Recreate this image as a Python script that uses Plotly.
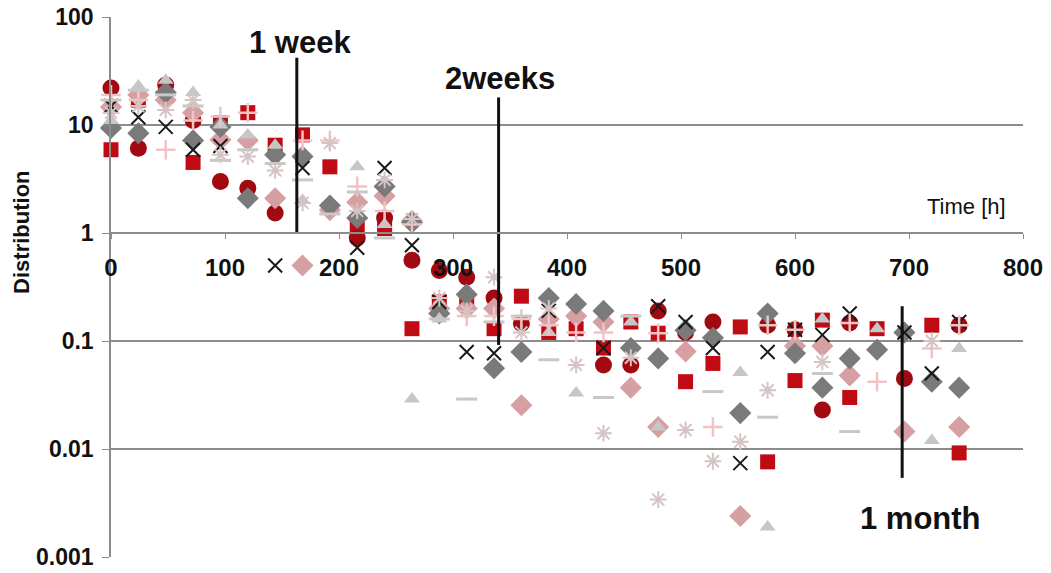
import plotly.graph_objects as go

# Sampling times (hours)
hours = [0, 24, 48, 72, 96, 120, 144, 168, 192, 216, 240, 264, 288, 312, 336, 360,
         384, 408, 432, 456, 480, 504, 528, 552, 576, 600, 624, 648, 672, 696, 720, 744]

# Distribution values per series (None = no measurement)
red_squares = [5.9, 17, 21, 4.5, 10.5, 13, 6.5, 8.1, 4.1, 1.14, 1.1, 0.13, 0.23, 0.22, 0.13, 0.26,
               0.12, 0.13, 0.086, 0.15, 0.118, 0.042, 0.062, 0.135, 0.0076, 0.043, 0.156, 0.030, 0.13, None, 0.14, 0.0092]
dark_circles = [22, 6.1, 23.5, 11, 3.0, 2.6, 1.53, None, None, 0.9, 1.38, 0.56, 0.45, 0.39, 0.25, 0.145,
                None, None, 0.06, 0.06, 0.19, 0.12, 0.15, None, 0.14, 0.127, 0.023, 0.147, None, 0.045, None, 0.14]
pink_diamonds = [14.7, 19, 17, 13, 7.3, 7.2, 2.1, 0.5, 1.63, 1.93, 2.2, 1.3, 0.2, 0.2, 0.2, 0.0254,
                 0.16, 0.17, 0.15, 0.037, 0.016, 0.08, None, 0.0024, None, 0.09, 0.09, 0.048, None, 0.0145, None, 0.016]
gray_diamonds = [9.4, 8.4, 20, 7.2, 9.6, 2.1, 5.3, 5.1, 1.8, 1.38, 2.7, 1.25, 0.18, 0.27, 0.056, 0.079,
                 0.25, 0.22, 0.19, 0.086, 0.069, 0.126, 0.107, 0.0215, 0.18, 0.077, 0.037, 0.069, 0.083, 0.12, 0.042, 0.037]
black_crosses = [15, 11.8, 9.6, 5.9, 6.4, None, 0.5, 4.0, None, 0.73, 4.0, 0.77, 0.23, 0.079, 0.077, None,
                 0.19, None, 0.086, None, 0.21, 0.15, 0.086, 0.0074, 0.079, 0.127, 0.114, 0.18, None, 0.12, 0.05, 0.15]
gray_triangles = [11, 23, 26, 20, 10, 8.1, 6.5, 2.0, None, 4.1, 1.2, 0.029, 0.16, None, None, None,
                  0.12, 0.033, None, 0.15, 0.016, None, None, 0.051, 0.0019, None, 0.16, None, 0.13, None, 0.012, 0.085]
pink_plus = [19, 17, 5.9, 11, 12, 13, None, 7.2, 7.2, 2.7, 1.6, 1.2, None, 0.17, 0.17, 0.16,
             0.14, 0.12, 0.12, None, 0.118, None, 0.016, None, 0.14, 0.127, None, 0.147, 0.042, None, 0.085, 0.14]
gray_dashes = [17, 21, 19, 15, 4.7, 5.9, 4.4, 3.1, 1.5, 2.4, 0.9, None, 0.16, 0.029, 0.15, 0.17,
               0.067, None, 0.030, 0.17, None, None, 0.034, None, 0.0197, None, 0.05, 0.0145, None, None, None, None]
pale_stars = [13, 15, 13.8, 17, 5.3, 5.1, 3.8, 1.9, 6.8, 1.6, 3.1, 1.35, 0.25, 0.19, 0.39, 0.12,
              0.2, 0.06, 0.014, 0.07, 0.0034, 0.015, 0.0077, 0.0117, 0.035, None, 0.064, None, None, None, 0.1, None]

# Milestones: label, hour, vertical extent of the marker line
milestone_labels = ["1 week", "2weeks", "1 month"]
milestone_hours = [163, 340, 694]
milestone_top = [42, 18, 0.21]
milestone_bottom = [1.0, 0.092, 0.0054]

y_tick_vals = [0.001, 0.01, 0.1, 1, 10, 100]
y_tick_text = ["0.001", "0.01", "0.1", "1", "10", "100"]
x_tick_vals = [0, 100, 200, 300, 400, 500, 600, 700, 800]

FONT = "Liberation Sans, Arial, sans-serif"
GRID = "#8c8c8c"

series = [
    (red_squares, "square", "#c00a14", 15, None),
    (dark_circles, "circle", "#a00a10", 17, None),
    (pink_diamonds, "diamond", "#d6a0a3", 17, None),
    (gray_diamonds, "diamond", "#7a7a7a", 17, None),
    (black_crosses, "x-thin-open", "#1a1a1a", 14, 2),
    (gray_triangles, "triangle-up", "#c6c6c6", 14, None),
    (pink_plus, "cross-thin-open", "#f0c4c4", 14, 2.5),
    (gray_dashes, "line-ew-open", "#c8c8c8", 15, 3),
    (pale_stars, "asterisk-open", "#d6c4c4", 14, 2),
]

fig = go.Figure()
for values, symbol, color, size, lw in series:
    marker = dict(symbol=symbol, color=color, size=size)
    if lw is not None:
        marker["line"] = dict(color=color, width=lw)
    else:
        marker["line"] = dict(width=0)
    fig.add_trace(go.Scatter(x=hours, y=values, mode="markers", marker=marker,
                             cliponaxis=False, showlegend=False, hoverinfo="x+y"))

# Milestone lines
for h, top, bottom in zip(milestone_hours, milestone_top, milestone_bottom):
    fig.add_trace(go.Scatter(x=[h, h], y=[bottom, top], mode="lines",
                             line=dict(color="#111111", width=3),
                             cliponaxis=False, showlegend=False, hoverinfo="skip"))

label_pos = [(166, 1.76), (341, 1.426), (710, -2.64)]
annotations = []
for text, (lx, ly) in zip(milestone_labels, label_pos):
    annotations.append(dict(x=lx, y=ly, xref="x", yref="y", text=text, showarrow=False,
                            xanchor="center", yanchor="middle",
                            font=dict(family=FONT, size=31, color="#111111", weight="bold")))
annotations.append(dict(x=750, y=0.25, xref="x", yref="y", text="Time [h]", showarrow=False,
                        xanchor="center", yanchor="middle",
                        font=dict(family=FONT, size=22, color="#111111")))
annotations.append(dict(x=-0.0976, y=0.602, xref="paper", yref="paper", text="Distribution",
                        textangle=-90, showarrow=False, xanchor="center", yanchor="middle",
                        font=dict(family=FONT, size=22, color="#111111", weight="bold")))

fig.update_layout(
    width=1051, height=573,
    margin=dict(l=111, r=28, t=17, b=16, autoexpand=False),
    paper_bgcolor="white", plot_bgcolor="white",
    showlegend=False,
    annotations=annotations,
    xaxis=dict(range=[0, 800], tickvals=x_tick_vals, anchor="free", position=0.6,
               automargin=False,
               showline=True, linecolor=GRID, linewidth=1.5, ticks="outside", ticklen=5,
               tickcolor=GRID, showgrid=False, zeroline=False, ticklabelstandoff=8,
               tickfont=dict(family=FONT, size=24, color="#111111", weight="bold")),
    yaxis=dict(type="log", range=[-3, 2], tickvals=y_tick_vals, ticktext=y_tick_text,
               automargin=False,
               showline=True, linecolor=GRID, linewidth=1.5, ticks="outside", ticklen=7,
               tickcolor=GRID, showgrid=True, gridcolor=GRID, gridwidth=1.5, zeroline=False,
               ticklabelstandoff=4,
               tickfont=dict(family=FONT, size=23, color="#111111", weight="bold")),
)

fig.write_html("out.html")
